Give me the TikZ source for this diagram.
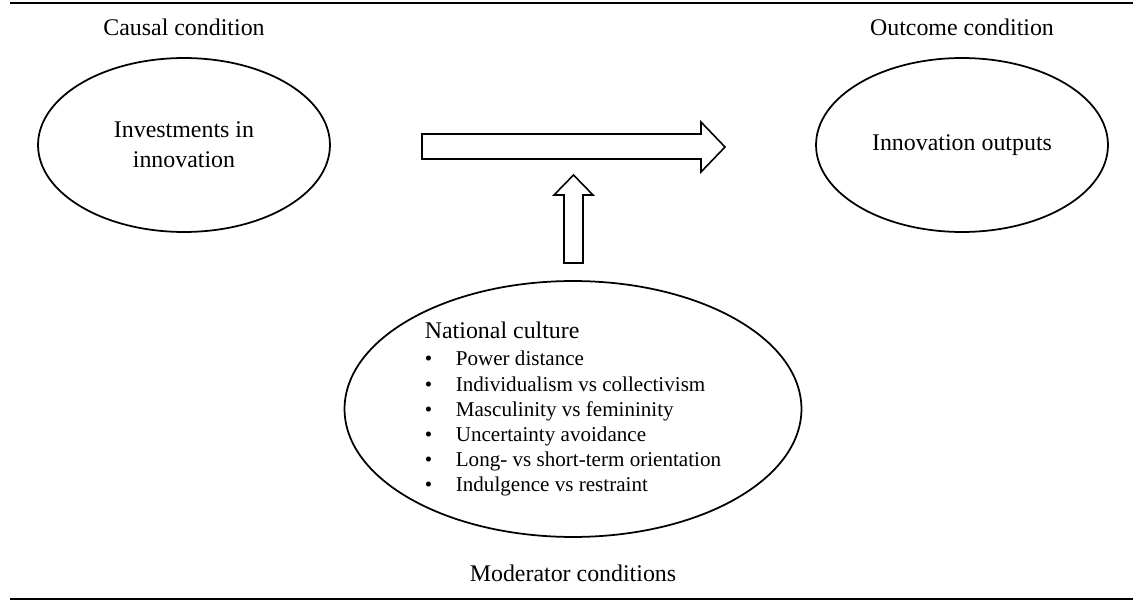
\documentclass[tikz,border=0pt]{standalone}
\usepackage{fontspec}
\setmainfont{Liberation Serif}
\usetikzlibrary{shapes.geometric}
\tikzset{
  factor/.style={draw, ellipse, line width=1pt, minimum width=5.84cm, minimum height=3.48cm, align=center, font=\fontsize{13.6pt}{17pt}\selectfont},
  heading/.style={font=\fontsize{13.6pt}{17pt}\selectfont},
  blockarrow/.style={draw, line width=0.9pt, fill=white},
  tablerule/.style={line width=1.3pt},
}
\newcommand{\bul}[1]{\makebox[0.62cm][l]{\textbullet}#1}

\begin{document}
\begin{tikzpicture}[x=0.02cm, y=-0.02cm]
      \useasboundingbox (0,0) rectangle (1137,608);

      % rules at top and bottom
      \draw[tablerule] (10,3) -- (1133,3);
      \draw[tablerule] (10,599) -- (1133,599);

      % causal and outcome condition
      \node[heading] (causal) at (184,27) {Causal condition};
      \node[heading] (outcome) at (962,27) {Outcome condition};
      \node[factor] (invest) at (184,145) {Investments in\\innovation};
      \node[factor] (output) at (962,145) {Innovation outputs};

      % moderator
      \node[factor, minimum width=9.14cm, minimum height=5.12cm, inner sep=0pt, align=left,
            font=\fontsize{12pt}{14.3pt}\selectfont] (culture) at (573,409)
        {{\fontsize{13.6pt}{15pt}\selectfont National culture}\\[1.4pt]
         \bul{Power distance}\\
         \bul{Individualism vs collectivism}\\
         \bul{Masculinity vs femininity}\\
         \bul{Uncertainty avoidance}\\
         \bul{Long- vs short-term orientation}\\
         \bul{Indulgence vs restraint}};
      \node[heading] (moderator) at (573,573) {Moderator conditions};

      % block arrows
      \draw[blockarrow] (422,134) -- (701,134) -- (701,122) -- (725,147)
        -- (701,172) -- (701,159) -- (422,159) -- cycle;
      \draw[blockarrow] (564,263) -- (564,195) -- (554,195) -- (573.5,175)
        -- (593,195) -- (583,195) -- (583,263) -- cycle;

\end{tikzpicture}
\end{document}
